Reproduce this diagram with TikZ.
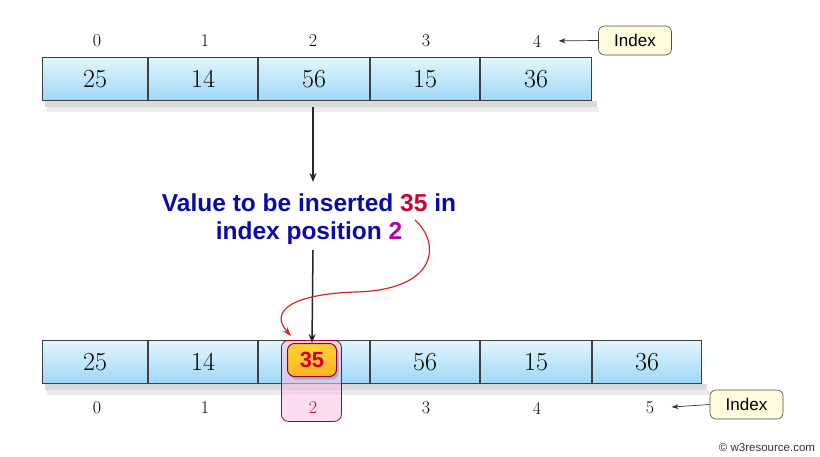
\documentclass[tikz,border=0pt]{standalone}
\usepackage{fontspec}
\newfontfamily\arial{Liberation Sans}
\usetikzlibrary{shadows,arrows.meta}
\definecolor{celltop}{HTML}{E2F5FD}
\definecolor{cellbot}{HTML}{9ED8F7}
\definecolor{txtblue}{HTML}{0A0AAA}
\definecolor{txtred}{HTML}{CC0033}
\definecolor{txtmag}{HTML}{B000B0}
\definecolor{idxfill}{HTML}{FFFBDD}
\definecolor{curvered}{HTML}{DD2222}
\definecolor{orgtop}{HTML}{FFD23A}
\definecolor{orgbot}{HTML}{FFB41E}
\tikzset{
  cell/.style={draw=black!75, line width=0.8pt, minimum height=43pt,
    top color=celltop, bottom color=cellbot, inner sep=0pt,
    font=\fontsize{26}{26}\selectfont},
  idx/.style={font=\fontsize{18}{18}\selectfont, text=black},
  idxbox/.style={draw=black!70, line width=0.6pt, fill=idxfill, rounded corners=6pt,
    minimum width=73pt, minimum height=29pt, font=\arial\fontsize{17}{17}\selectfont},
  arr/.style={-{Stealth[length=9pt,width=7pt]}, line width=1.5pt, black!85},
  thinarr/.style={-{Stealth[length=7pt,width=5pt]}, line width=0.7pt, black!80, shorten >=14pt},
  msg/.style={font=\arial\bfseries\fontsize{24.5}{28}\selectfont, text=txtblue, align=center},
}
\begin{document}
\begin{tikzpicture}[x=1pt,y=-1pt]
\useasboundingbox (0,0) rectangle (820,456);
% top array shadow
\fill[black!60, opacity=0.25] (45,101) rectangle (597,107);
\fill[black!60, opacity=0.13] (47,107) rectangle (599,112);
\def\cellrow#1#2#3{%
  \foreach \v/\xa/\xb [count=\i from 0] in {#3}{
    \node[cell, minimum width={\xb-\xa-0.8}] (#1\i) at ({(\xa+\xb)/2},#2) {\v};
  }}
\cellrow{t}{79}{25/42/148,14/148/258,56/258/370,15/370/480,36/480/592}
\foreach \x [count=\i from 0] in {97,205,313,426,537}{
  \node[idx] (ti\i) at (\x,41) {\i};
}
\node[idxbox] (tib) at (635,40.5) {Index};
\draw[thinarr] (tib.west) -- (ti4.east);

% bottom array shadow
\fill[black!60, opacity=0.25] (45,384) rectangle (707,390);
\fill[black!60, opacity=0.13] (47,390) rectangle (709,395);
\cellrow{b}{362}{25/42/148,14/148/258,/258/370,56/370/480,15/480/592,36/592/702}

% highlight
\node[draw=txtred!80!black, line width=0.8pt, fill=magenta!25, fill opacity=0.55,
  rounded corners=7pt, minimum width=60pt, minimum height=81pt, anchor=north west]
  (hl) at (281,340) {};

\foreach \x [count=\i from 0] in {97,205,313,426,537,650}{
  \ifnum\i=2
    \node[idx, text=txtred] (bi\i) at (\x,408) {\i};
  \else
    \node[idx] (bi\i) at (\x,408) {\i};
  \fi
}
\node[idxbox] (bib) at (746.5,404.5) {Index};
\draw[thinarr] (bib.west) -- (bi5.east);

\node[draw=txtred!70!black, line width=1pt, top color=orgtop, bottom color=orgbot,
  rounded corners=7pt, minimum width=49pt, minimum height=33pt, inner sep=0pt,
  font=\arial\bfseries\fontsize{22}{22}\selectfont, text=txtred,
  drop shadow={shadow xshift=2pt, shadow yshift=-3pt, opacity=0.4}]
  (nv) at (312,360) {35};

% message
\node[msg] (msg) at (309,219) {Value to be inserted \textcolor{txtred}{35} in\\index position \textcolor{txtmag}{2}};
\coordinate (a1) at (313,107);
\coordinate (a2) at (313,182);
\draw[arr] (a1) -- (a2);
\coordinate (a3) at (313,250);
\draw[arr] (a3) -- (nv.north);

% red curve
\coordinate (cs) at (415,220);
\coordinate (ce) at (291,336);
\draw[curvered, line width=1.2pt, -{Stealth[length=9pt,width=6pt]}]
  (cs) .. controls (440,242) and (440,290) .. (355,292)
       .. controls (295,294) and (268,310) .. (ce);

\node[font=\arial\fontsize{11.5}{11.5}\selectfont, text=black!80] (cr) at (767,448) {\textcopyright{} w3resource.com};
\end{tikzpicture}
\end{document}
